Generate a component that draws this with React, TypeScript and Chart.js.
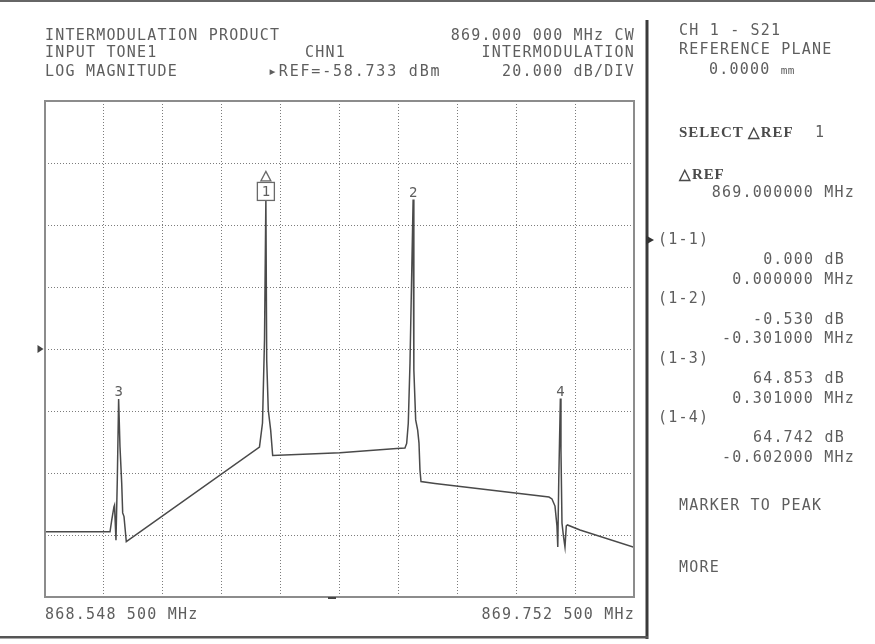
import React, { useEffect, useRef } from 'react';
import { Chart, registerables } from 'chart.js';

Chart.register(...registerables);

const W = 875;
const H = 644;

// Stimulus / response setup
const START_MHZ = 868.5485;
const STOP_MHZ = 869.7525;
const REF_DBM = -58.733;
const DB_PER_DIV = 20;
const X_DIVISIONS = 10;
const Y_DIVISIONS = 8;

// Trace (frequency in MHz, level in dBm)
const freqMHz = [
  868.5485, 868.6814, 868.6849, 868.6895, 868.6906, 868.6936, 868.6963, 868.699, 868.7018, 868.7053,
  868.7073, 868.71, 868.7147, 868.9869, 868.9931, 868.9972, 869.0, 869.0017, 869.0049, 869.0098,
  869.0139, 869.1515, 869.2674, 869.2843, 869.2878, 869.2911, 869.2946, 869.301, 869.3025, 869.3062,
  869.3103, 869.313, 869.315, 869.3171, 869.3457, 869.5787, 869.5848, 869.591, 869.595, 869.5967,
  869.5987, 869.602, 869.6032, 869.6053, 869.6083, 869.6114, 869.6141, 869.6165, 869.6421, 869.7525,
];
const levelDbm = [
  -117.7, -117.7, -113.9, -109.6, -109.1, -120.4, -101.0, -74.85, -90.3, -102.0,
  -111.6, -112.8, -120.9, -90.4, -82.6, -55.8, -10.0, -62.3, -78.4, -84.9,
  -93.1, -92.2, -90.8, -90.7, -89.2, -82.7, -63.3, -10.53, -65.5, -81.6,
  -84.9, -89.1, -97.8, -101.5, -102.1, -106.5, -107.1, -109.4, -115.8, -122.6,
  -101.0, -74.74, -91.3, -114.9, -119.1, -122.6, -115.8, -115.5, -117.1, -122.7,
];

// Markers
const markerLabels = ['1', '2', '3', '4'];
const markerFreqMHz = [869.0, 869.301, 868.699, 869.602];
const markerLevelDbm = [-10.0, -10.53, -74.853, -74.742];

// Delta-marker readout table
const deltaNames = ['(1-1)', '(1-2)', '(1-3)', '(1-4)'];
const deltaDb = ['0.000 dB', '-0.530 dB', '64.853 dB', '64.742 dB'];
const deltaMHz = ['0.000000 MHz', '-0.301000 MHz', '0.301000 MHz', '-0.602000 MHz'];

const Y_MIN = REF_DBM - (DB_PER_DIV * Y_DIVISIONS) / 2;
const Y_MAX = REF_DBM + (DB_PER_DIV * Y_DIVISIONS) / 2;
const xGridMHz = Array.from({ length: X_DIVISIONS + 1 }, (_, i) => START_MHZ + (i * (STOP_MHZ - START_MHZ)) / X_DIVISIONS);
const yGridDbm = Array.from({ length: Y_DIVISIONS + 1 }, (_, i) => Y_MIN + i * DB_PER_DIV);

const TEXT = '#5e5e5e';
const TRACE = '#4a4a4a';
const GRID = '#7c7c7c';
const MONO = '"DejaVu Sans Mono", monospace';
const SERIF = '"Liberation Serif", serif';

const instrumentPlugin = {
  id: 'instrument',
  afterDraw(chart: any) {
    const { ctx, chartArea: a, scales } = chart;
    const xs = scales.x;
    const ys = scales.y;
    ctx.save();
    // plot frame
    ctx.strokeStyle = '#8c8c8c';
    ctx.lineWidth = 2;
    ctx.strokeRect(a.left, a.top, a.right - a.left, a.bottom - a.top);

    // markers
    ctx.font = `14px ${MONO}`;
    ctx.textAlign = 'center';
    ctx.textBaseline = 'alphabetic';
    markerLabels.forEach((lab, i) => {
      const px = xs.getPixelForValue(markerFreqMHz[i]);
      const py = ys.getPixelForValue(markerLevelDbm[i]);
      if (i === 0) {
        ctx.fillStyle = '#fff';
        ctx.fillRect(px - 8.5, py - 15.5, 17, 18);
        ctx.strokeStyle = '#6a6a6a';
        ctx.lineWidth = 1.3;
        ctx.strokeRect(px - 8.5, py - 15.5, 17, 18);
        ctx.beginPath();
        ctx.moveTo(px, py - 26.5);
        ctx.lineTo(px + 5, py - 17);
        ctx.lineTo(px - 5, py - 17);
        ctx.closePath();
        ctx.stroke();
        ctx.fillStyle = TEXT;
        ctx.fillText(lab, px, py - 1.5);
      } else {
        ctx.fillStyle = TEXT;
        ctx.fillText(lab, px, py - 3);
      }
    });

    // reference position arrow
    const ry = ys.getPixelForValue(REF_DBM);
    ctx.fillStyle = '#444';
    ctx.beginPath();
    ctx.moveTo(37.5, ry - 4);
    ctx.lineTo(43.5, ry);
    ctx.lineTo(37.5, ry + 4);
    ctx.closePath();
    ctx.fill();

    // small dash under the frame
    ctx.fillStyle = '#444';
    ctx.fillRect(328, a.bottom, 8, 2);

    // screen frame lines
    ctx.fillStyle = '#666';
    ctx.fillRect(0, 0, W, 2);
    ctx.fillStyle = '#3a3a3a';
    ctx.fillRect(645.5, 20, 3, 619);
    ctx.fillStyle = '#555';
    ctx.fillRect(0, 636, 648, 2.5);

    // active delta arrow
    ctx.fillStyle = '#333';
    ctx.beginPath();
    ctx.moveTo(646, 235.5);
    ctx.lineTo(654, 240);
    ctx.lineTo(646, 244.5);
    ctx.closePath();
    ctx.fill();
    ctx.restore();
  },
};

function T({ x, y, right, children, style }: any) {
  const s: any = {
    position: 'absolute',
    top: y - 12.7,
    whiteSpace: 'pre',
    fontFamily: MONO,
    fontSize: 15,
    lineHeight: '15px',
    letterSpacing: '1.2px',
    color: TEXT,
    ...style,
  };
  if (right) s.right = W - x;
  else s.left = x;
  return <div style={s}>{children}</div>;
}

const boldSerif = { fontFamily: SERIF, fontWeight: 'bold', letterSpacing: '0.9px', color: '#4a4a4a' };

export default function App() {
  const ref = useRef<HTMLCanvasElement>(null);

  useEffect(() => {
    const canvas = ref.current;
    if (!canvas) return;
    const chart = new Chart(canvas, {
      type: 'scatter',
      data: {
        datasets: [
          {
            data: freqMHz.map((f, i) => ({ x: f, y: levelDbm[i] })),
            showLine: true,
            borderColor: TRACE,
            borderWidth: 1.5,
            pointRadius: 0,
            tension: 0,
            fill: false,
          },
        ],
      },
      options: {
        animation: false,
        responsive: false,
        devicePixelRatio: 1,
        events: [],
        layout: { padding: { left: 45, top: 101, right: W - 634, bottom: H - 597 } },
        plugins: { legend: { display: false }, tooltip: { enabled: false } },
        scales: {
          x: {
            type: 'linear',
            min: START_MHZ,
            max: STOP_MHZ,
            afterBuildTicks: (s: any) => {
              s.ticks = xGridMHz.map((v) => ({ value: v }));
            },
            afterFit: (s: any) => {
              s.height = 0;
            },
            ticks: { display: false },
            grid: { color: GRID, lineWidth: 1, drawTicks: false },
            border: { display: false, dash: [1, 2] },
          },
          y: {
            type: 'linear',
            min: Y_MIN,
            max: Y_MAX,
            afterBuildTicks: (s: any) => {
              s.ticks = yGridDbm.map((v) => ({ value: v }));
            },
            afterFit: (s: any) => {
              s.width = 0;
            },
            ticks: { display: false },
            grid: { color: GRID, lineWidth: 1, drawTicks: false },
            border: { display: false, dash: [1, 2] },
          },
        },
      } as any,
      plugins: [instrumentPlugin],
    });
    return () => chart.destroy();
  }, []);

  const rowY = [244.5, 304, 363.5, 423];
  const dbY = [264.8, 324.2, 383.6, 443];
  const mhzY = [284.6, 344, 403.4, 462.8];

  return (
    <div style={{ position: 'absolute', left: 0, top: 0, width: W, height: H, background: '#fff', overflow: 'hidden' }}>
      <canvas ref={ref} width={W} height={H} style={{ position: 'absolute', left: 0, top: 0, width: W, height: H, display: 'block' }} />
      {/* header */}
      <T x={45} y={40.5}>INTERMODULATION PRODUCT</T>
      <T x={635} y={40.5} right>869.000 000 MHz CW</T>
      <T x={45} y={58}>INPUT TONE1</T>
      <T x={305} y={58}>CHN1</T>
      <T x={635} y={58} right>INTERMODULATION</T>
      <T x={45} y={76.5}>LOG MAGNITUDE</T>
      <T x={268} y={76.5} style={{ letterSpacing: '1.8px' }}>▸REF=-58.733 dBm</T>
      <T x={635} y={76.5} right>20.000 dB/DIV</T>
      {/* footer */}
      <T x={45} y={620}>868.548 500 MHz</T>
      <T x={635} y={620} right>869.752 500 MHz</T>
      {/* side panel */}
      <T x={679} y={36}>CH 1 - S21</T>
      <T x={679} y={55}>REFERENCE PLANE</T>
      <T x={709} y={75}>0.0000 <span style={{ fontSize: 11, letterSpacing: '0.5px' }}>mm</span></T>
      <T x={679} y={138} style={boldSerif}>SELECT △REF</T>
      <T x={815} y={138}>1</T>
      <T x={679} y={180} style={boldSerif}>△REF</T>
      <T x={855} y={198} right>869.000000 MHz</T>
      {deltaNames.map((n, i) => (
        <React.Fragment key={n}>
          <T x={658} y={rowY[i]}>{n}</T>
          <T x={845} y={dbY[i]} right>{deltaDb[i]}</T>
          <T x={855} y={mhzY[i]} right>{deltaMHz[i]}</T>
        </React.Fragment>
      ))}
      <T x={679} y={510.5}>MARKER TO PEAK</T>
      <T x={679} y={572.5}>MORE</T>
    </div>
  );
}
